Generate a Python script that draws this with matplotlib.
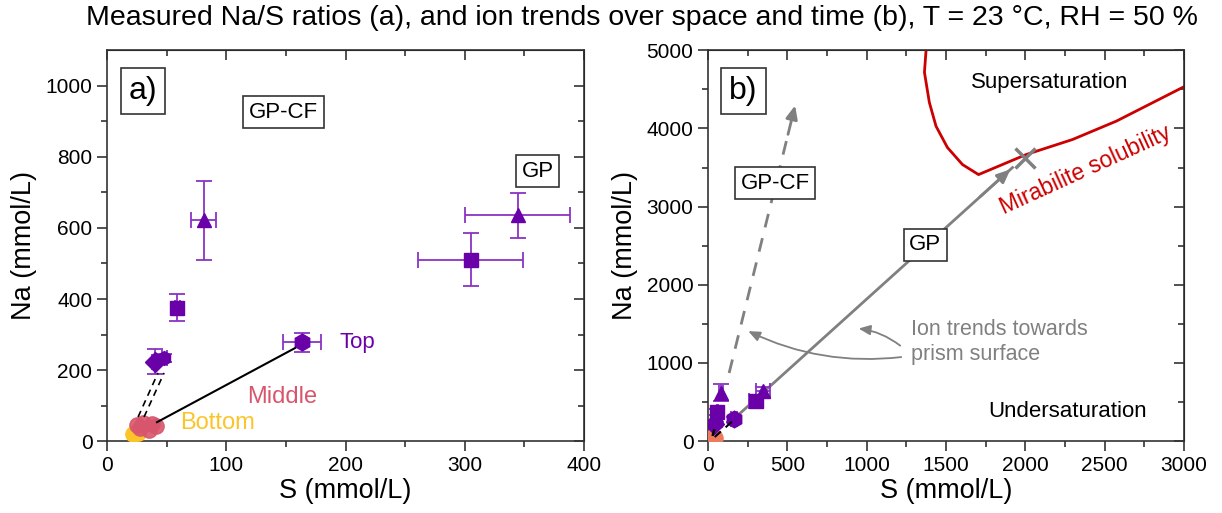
import matplotlib.pyplot as plt

plt.rcParams['font.family'] = ['Liberation Sans', 'DejaVu Sans']

# panel a / b data (S, Na in mmol/L)
gpcf_s = [81, 59, 40, 48]
gpcf_na = [621, 375, 223, 234]
gpcf_xerr = [10.5, 2, 2, 2]
gpcf_yerr = [110, 38, 35, 10]
gpcf_mk = ['^', 's', 'D', 'h']

gp_s = [305, 344.5]
gp_na = [511, 636]
gp_xerr = [44, 44]
gp_yerr = [75, 63]
gp_mk = ['s', '^']

top_s = [163.5]
top_na = [278]
top_xerr = [16]
top_yerr = [27]

mid_s = [25, 30, 38, 41, 35, 28]
mid_na = [45, 52, 48, 42, 32, 38]
bot_s = [22, 26, 24]
bot_na = [20, 22, 26]

# mirabilite solubility curve
mir_s = [1374, 1364, 1395, 1437, 1509, 1604, 1705, 2006, 2298, 2574, 3008]
mir_na = [4991, 4718, 4333, 4029, 3756, 3538, 3410, 3667, 3859, 4094, 4542]

purple = '#6a00a8'
errc = '#8b34c4'
pink = '#d8566d'
yellow = '#fbc52a'
gray = '#808080'


def style_axes(ax):
    for sp in ax.spines.values():
        sp.set_linewidth(1.2)
        sp.set_color('#333333')
    ax.tick_params(which='both', labelsize=15, width=1.2, color='#333333')
    ax.tick_params(which='major', length=7)
    ax.tick_params(which='minor', length=4)
    ax.tick_params(which='both', top=False, right=False, direction='out')
    ax.set_xlabel('S (mmol/L)', fontsize=19.5, labelpad=2)
    ax.set_ylabel('Na (mmol/L)', fontsize=19.5, labelpad=6)
    sec = ax.secondary_xaxis('top')
    sec.tick_params(which='both', direction='in', labeltop=False, width=1.2, color='#333333')
    sec.tick_params(which='major', length=7)
    sec.tick_params(which='minor', length=4)
    sec2 = ax.secondary_yaxis('right')
    sec2.tick_params(which='both', direction='in', labelright=False, width=1.2, color='#333333')
    sec2.tick_params(which='major', length=7)
    sec2.tick_params(which='minor', length=4)
    return sec, sec2


def draw_points(ax, low_color, dashed_main=False):
    for x, y, xe, ye, m in zip(gpcf_s, gpcf_na, gpcf_xerr, gpcf_yerr, gpcf_mk):
        ax.errorbar(x, y, xerr=xe, yerr=ye, fmt=m, color=purple, ecolor=errc,
                    ms=10, capsize=6, elinewidth=1.3, capthick=1.3, zorder=4)
    for x, y, xe, ye, m in zip(gp_s, gp_na, gp_xerr, gp_yerr, gp_mk):
        ax.errorbar(x, y, xerr=xe, yerr=ye, fmt=m, color=purple, ecolor=errc,
                    ms=10, capsize=6, elinewidth=1.3, capthick=1.3, zorder=4)
    ax.errorbar(top_s, top_na, xerr=top_xerr, yerr=top_yerr, fmt='h', color=purple,
                ecolor=errc, ms=12, capsize=6, elinewidth=1.3, capthick=1.3, zorder=4)
    ax.plot(bot_s, bot_na, 'o', color=yellow, ms=11, zorder=3)
    ax.plot(mid_s, mid_na, 'o', color=low_color, ms=11, alpha=0.9, zorder=3)
    # trend lines
    ls_main = (0, (4, 3)) if dashed_main else '-'
    ax.plot([41.9, 157.6], [53.5, 262], color='black', lw=1.5, ls=ls_main, zorder=5)
    ax.plot([26, 42.7], [68, 192], color='black', lw=1.2, ls=(0, (4, 3)), zorder=5)
    ax.plot([31, 47.8], [68, 192], color='black', lw=1.2, ls=(0, (4, 3)), zorder=5)


fig = plt.figure(figsize=(12.22, 5.13), dpi=100)
ax1 = fig.add_axes([0.0876, 0.140, 0.3904, 0.762])
ax2 = fig.add_axes([0.5794, 0.140, 0.3895, 0.762])

# ---- panel a
draw_points(ax1, pink)
ax1.set_xlim(0, 400)
ax1.set_ylim(0, 1100)
ax1.set_xticks([0, 100, 200, 300, 400])
ax1.set_xticks(range(50, 400, 100), minor=True)
ax1.set_yticks([0, 200, 400, 600, 800, 1000])
ax1.set_yticks(range(100, 1100, 200), minor=True)
s1, s2 = style_axes(ax1)
s1.set_xticks([0, 100, 200, 300, 400])
s1.set_xticks(range(50, 400, 100), minor=True)
s2.set_yticks(range(0, 1101, 200))
s2.set_yticks(range(100, 1100, 200), minor=True)

box = dict(boxstyle='square,pad=0.25', fc='white', ec='#333333', lw=1.2)
ax1.text(0.045, 0.935, 'a)', transform=ax1.transAxes, fontsize=23, va='top',
         ha='left', bbox=box)
ax1.text(148, 926, 'GP-CF', fontsize=16, ha='center', va='center', bbox=box)
ax1.text(361, 760, 'GP', fontsize=16, ha='center', va='center', bbox=box)
ax1.text(195, 277, 'Top', fontsize=16, color=purple, ha='left', va='center')
ax1.text(147, 125, 'Middle', fontsize=17, color=pink, ha='center', va='center')
ax1.text(93, 51, 'Bottom', fontsize=17, color=yellow, ha='center', va='center')

# ---- panel b
ax2.plot(mir_s, mir_na, color='#cc0000', lw=2, zorder=2)
draw_points(ax2, '#ee7a5e', dashed_main=True)
ax2.plot([160, 1919], [280, 3500], color=gray, lw=2, zorder=2)
ax2.annotate('', xy=(1919, 3500), xytext=(1700, 3100),
             arrowprops=dict(arrowstyle='-|>,head_length=0.8,head_width=0.35',
                             color=gray, lw=2))
ax2.plot([133, 500], [872, 3890], color=gray, lw=2, ls=(0, (5, 4)), zorder=2)
ax2.annotate('', xy=(553, 4329), xytext=(500, 3890),
             arrowprops=dict(arrowstyle='-|>,head_length=0.8,head_width=0.35',
                             color=gray, lw=2))
ax2.plot([1995], [3624], 'x', color=gray, ms=14, mew=2.5, zorder=5)

ax2.set_xlim(0, 3000)
ax2.set_ylim(0, 5000)
ax2.set_xticks(range(0, 3001, 500))
ax2.set_xticks(range(250, 3000, 500), minor=True)
ax2.set_yticks(range(0, 5001, 1000))
ax2.set_yticks(range(500, 5000, 1000), minor=True)
t1, t2 = style_axes(ax2)
t1.set_xticks(range(0, 3001, 500))
t1.set_xticks(range(250, 3000, 500), minor=True)
t2.set_yticks(range(0, 5001, 1000))
t2.set_yticks(range(500, 5000, 1000), minor=True)

ax2.text(0.045, 0.935, 'b)', transform=ax2.transAxes, fontsize=23, va='top',
         ha='left', bbox=box)
ax2.text(423, 3301, 'GP-CF', fontsize=16, ha='center', va='center', bbox=box)
ax2.text(1370, 2513, 'GP', fontsize=16, ha='center', va='center', bbox=box)
ax2.text(2153, 4590, 'Supersaturation', fontsize=16, ha='center', va='center')
ax2.text(2266, 385, 'Undersaturation', fontsize=16, ha='center', va='center')
ax2.text(2378, 3462, 'Mirabilite solubility', fontsize=16.5, color='#cc0000',
         ha='center', va='center', rotation=24.5, rotation_mode='anchor')
ax2.text(1282, 1269, 'Ion trends towards\nprism surface', fontsize=15.5, color=gray,
         ha='left', va='center', linespacing=1.3)
ax2.annotate('', xy=(238, 1423), xytext=(1235, 1080),
             arrowprops=dict(arrowstyle='-|>,head_length=0.7,head_width=0.3',
                             color=gray, lw=1.3, connectionstyle='arc3,rad=-0.15'))
ax2.annotate('', xy=(932, 1445), xytext=(1225, 1200),
             arrowprops=dict(arrowstyle='-|>,head_length=0.7,head_width=0.3',
                             color=gray, lw=1.3, connectionstyle='arc3,rad=0.15'))

fig.suptitle('Measured Na/S ratios (a), and ion trends over space and time (b), T = 23 °C, RH = 50 %',
             fontsize=20.5, x=0.525, y=0.99)

fig.savefig('out.png', dpi=100)
